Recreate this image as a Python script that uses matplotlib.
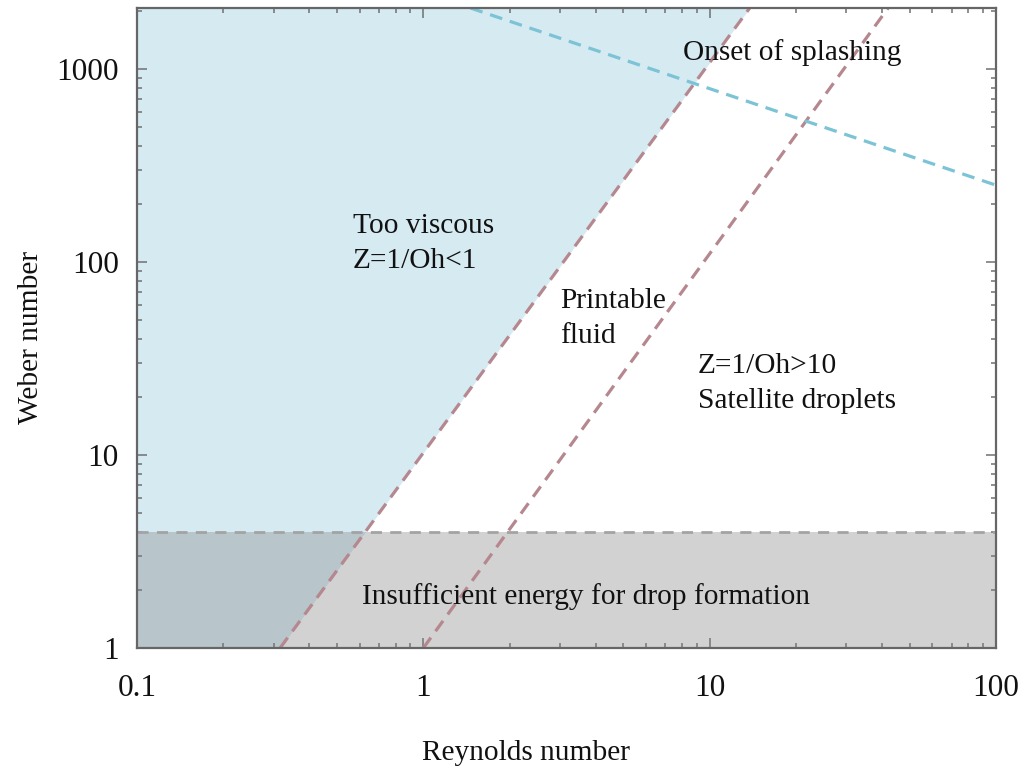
import numpy as np
import matplotlib
matplotlib.use("Agg")
import matplotlib.pyplot as plt
from matplotlib.ticker import LogLocator, FixedLocator, FixedFormatter, NullFormatter

plt.rcParams['font.family'] = ['Liberation Serif', 'DejaVu Serif']

# Axis ranges (Reynolds number, Weber number)
re_limits = [0.1, 100]
we_limits = [1, 2070]

# Boundary lines, given by their end points (Re, We)
z_low_re = [0.316, 13.8]      # Z = 1/Oh = 1 boundary
z_low_we = [1, 2070]
z_high_re = [1.0, 42.0]       # Z = 1/Oh = 10 boundary
z_high_we = [1, 2070]
splash_re = [1.46, 100]       # onset of splashing
splash_we = [2070, 250]
energy_we = 4                 # minimum Weber number for drop formation

x_ticks = [0.1, 1, 10, 100]
x_tick_labels = ['0.1', '1', '10', '100']
y_ticks = [1, 10, 100, 1000]
y_tick_labels = ['1', '10', '100', '1000']

blue_fill = '#d6eaf2'
gray_fill = '#808080'
red_dash = '#b5878f'
blue_dash = '#7cc3d6'
gray_dash = '#a3a3a3'

fig = plt.figure(figsize=(10.27, 7.71), dpi=100)
ax = fig.add_axes([137 / 1027, 1 - 648 / 771, (996 - 137) / 1027, (648 - 8) / 771])
ax.set_xscale('log')
ax.set_yscale('log')
ax.set_xlim(*re_limits)
ax.set_ylim(*we_limits)


def line_re_at(we, re_pts, we_pts):
    lr = np.log10(re_pts)
    lw = np.log10(we_pts)
    return 10 ** np.interp(np.log10(we), lw, lr)


# Too-viscous region: everything left of the Z = 1 line
we_grid = np.logspace(np.log10(we_limits[0]), np.log10(we_limits[1]), 200)
ax.fill_betweenx(we_grid, re_limits[0], line_re_at(we_grid, z_low_re, z_low_we),
                 color=blue_fill, lw=0, zorder=1)

# Insufficient-energy band
ax.fill_between(re_limits, we_limits[0], energy_we, color=gray_fill, alpha=0.35,
                lw=0, zorder=2)
ax.axhline(energy_we, color=gray_dash, lw=2.0, dashes=(4, 3), zorder=3)

# Z boundaries and splashing threshold
ax.plot(z_low_re, z_low_we, color=red_dash, lw=2.3, dashes=(4, 2.5), zorder=4)
ax.plot(z_high_re, z_high_we, color=red_dash, lw=2.3, dashes=(4, 2.5), zorder=4)
ax.plot(splash_re, splash_we, color=blue_dash, lw=2.3, dashes=(4, 2.5), zorder=4)

# Region labels
txt = dict(fontsize=21.2, color='#111111', ha='left', va='center', zorder=6)
ax.text(8.07, 1210, 'Onset of splashing', **txt)
ax.text(0.568, 125, 'Too viscous\nZ=1/Oh<1', linespacing=1.45, **txt)
ax.text(3.0, 51, 'Printable\nfluid', linespacing=1.45, **txt)
ax.text(9.1, 23.5, 'Z=1/Oh>10\nSatellite droplets', linespacing=1.45, **txt)
ax.text(0.611, 1.84, 'Insufficient energy for drop formation', **txt)

# Axes styling
for s in ax.spines.values():
    s.set_color('#666666')
    s.set_linewidth(1.6)
    s.set_zorder(7)

ax.xaxis.set_major_locator(FixedLocator(x_ticks))
ax.xaxis.set_major_formatter(FixedFormatter(x_tick_labels))
ax.yaxis.set_major_locator(FixedLocator(y_ticks))
ax.yaxis.set_major_formatter(FixedFormatter(y_tick_labels))
ax.xaxis.set_minor_locator(LogLocator(base=10, subs=np.arange(2, 10)))
ax.yaxis.set_minor_locator(LogLocator(base=10, subs=np.arange(2, 10)))
ax.xaxis.set_minor_formatter(NullFormatter())
ax.yaxis.set_minor_formatter(NullFormatter())

ax.tick_params(which='both', direction='in', top=True, right=True,
               color='#707070', width=1.1, labelsize=22.5, labelcolor='#111111')
ax.tick_params(which='major', length=7)
ax.tick_params(which='minor', length=3.5)
ax.tick_params(axis='x', which='major', pad=19)
ax.tick_params(axis='y', which='major', pad=13)

ax.set_xlabel('Reynolds number', fontsize=21.2, color='#111111')
ax.set_ylabel('Weber number', fontsize=21.2, color='#111111')
ax.xaxis.set_label_coords(0.453, -0.143)
ax.yaxis.set_label_coords(-0.108, 0.486)

fig.savefig('out.png', dpi=100, facecolor='white')
